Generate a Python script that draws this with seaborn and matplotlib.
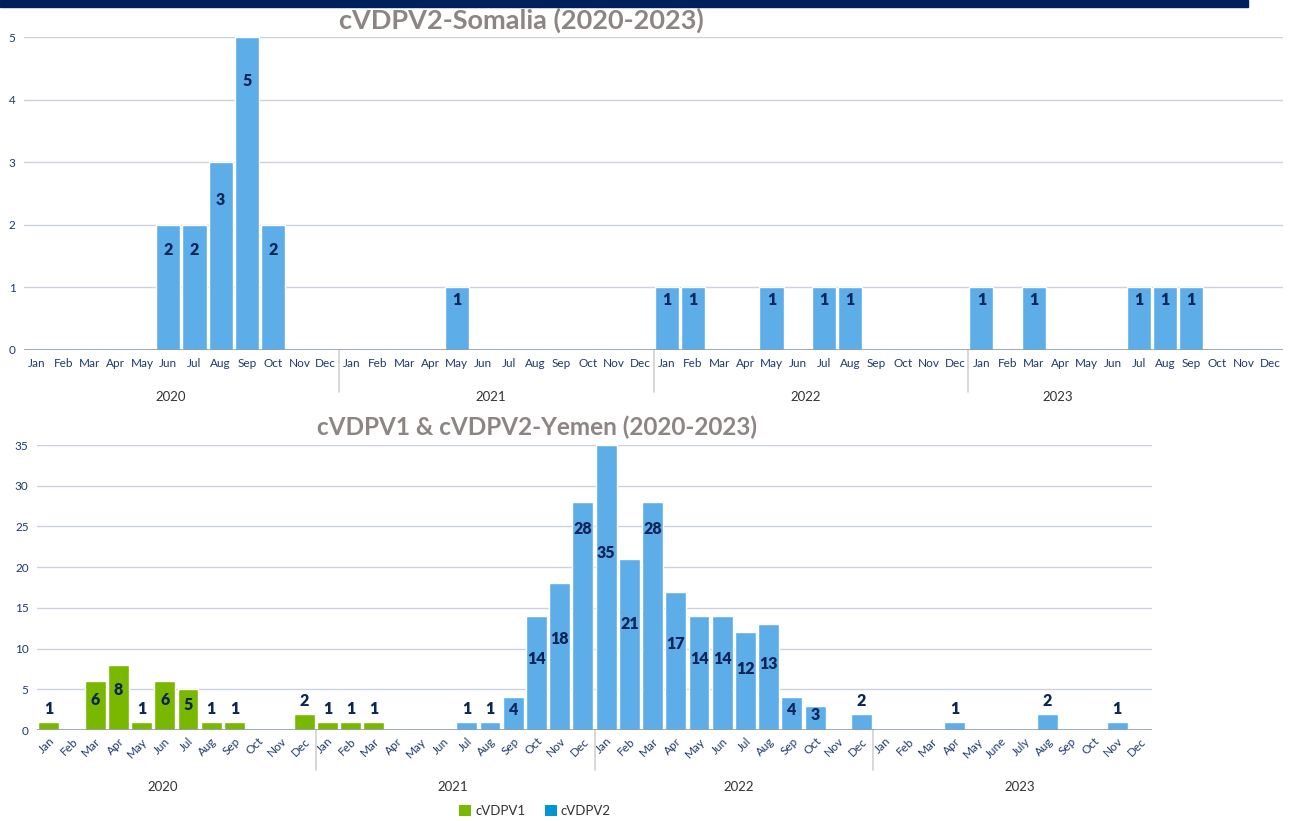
import numpy as np
import pandas as pd
import matplotlib
matplotlib.use("Agg")
import matplotlib.pyplot as plt
from matplotlib.patches import Rectangle, Patch
from matplotlib.transforms import blended_transform_factory
import seaborn as sns

# ---------------- data ----------------
years = ["2020", "2021", "2022", "2023"]
months_top = ["Jan", "Feb", "Mar", "Apr", "May", "Jun", "Jul", "Aug", "Sep", "Oct", "Nov", "Dec"]
months_2023_bottom = ["Jan", "Feb", "Mar", "Apr", "May", "June", "July", "Aug", "Sep", "Oct", "Nov", "Dec"]

# Somalia cVDPV2 per month, 2020..2023
somalia_2020 = [0, 0, 0, 0, 0, 2, 2, 3, 5, 2, 0, 0]
somalia_2021 = [0, 0, 0, 0, 1, 0, 0, 0, 0, 0, 0, 0]
somalia_2022 = [1, 1, 0, 0, 1, 0, 1, 1, 0, 0, 0, 0]
somalia_2023 = [1, 0, 1, 0, 0, 0, 1, 1, 1, 0, 0, 0]

# Yemen cVDPV1 per month, 2020..2023
yemen_v1_2020 = [1, 0, 6, 8, 1, 6, 5, 1, 1, 0, 0, 2]
yemen_v1_2021 = [1, 1, 1, 0, 0, 0, 0, 0, 0, 0, 0, 0]
yemen_v1_2022 = [0, 0, 0, 0, 0, 0, 0, 0, 0, 0, 0, 0]
yemen_v1_2023 = [0, 0, 0, 0, 0, 0, 0, 0, 0, 0, 0, 0]

# Yemen cVDPV2 per month, 2020..2023
yemen_v2_2020 = [0, 0, 0, 0, 0, 0, 0, 0, 0, 0, 0, 0]
yemen_v2_2021 = [0, 0, 0, 0, 0, 0, 1, 1, 4, 14, 18, 28]
yemen_v2_2022 = [35, 21, 28, 17, 14, 14, 12, 13, 4, 3, 0, 2]
yemen_v2_2023 = [0, 0, 0, 1, 0, 0, 0, 2, 0, 0, 1, 0]

series_names = ["cVDPV1", "cVDPV2"]

# ---------------- styles ----------------
BAR_BLUE = "#5DADE9"
GREEN = "#7AB800"
LEGEND_BLUE = "#0096D6"
NAVY = "#0B2559"
TICK_NAVY = "#1F3A6E"
TITLE_GRAY = "#8C8583"
GRID = "#CBD1DE"
BASE = "#8E9AB3"
SEP = "#D5D0D0"
FONT = ["Lato", "DejaVu Sans"]

sns.set_theme(style="white")
plt.rcParams["font.family"] = FONT

W, H = 1291, 821
fig = plt.figure(figsize=(W / 100, H / 100), dpi=100)

def fx(px):
    return px / W

def fy(py):
    return 1 - py / H

# navy band at top
fig.patches.append(Rectangle((0, fy(7)), fx(1248), 7 / H, transform=fig.transFigure,
                             color="#00205B", zorder=5))

# ================= TOP: Somalia =================
somalia = somalia_2020 + somalia_2021 + somalia_2022 + somalia_2023
n = len(somalia)
df_top = pd.DataFrame({"idx": np.arange(n), "cases": somalia})

ax1 = fig.add_axes([fx(24), fy(350), fx(1283) - fx(24), (350 - 37) / H])
sns.barplot(data=df_top, x="idx", y="cases", color=BAR_BLUE, saturation=1,
            width=0.92, ax=ax1, zorder=3)
ax1.set_ylim(0, 5)
ax1.set_xlim(-0.5, n - 0.5)
ax1.set_yticks(range(0, 6))
ax1.set_yticklabels([str(v) for v in range(0, 6)], fontsize=8.5, color=TICK_NAVY)
ax1.tick_params(axis="y", length=0, pad=6)
for v in range(1, 6):
    ax1.axhline(v, color=GRID, lw=1, zorder=1)
ax1.axhline(0, color=BASE, lw=1.2, zorder=4)
for s in ax1.spines.values():
    s.set_visible(False)
ax1.set_xticks(np.arange(n))
ax1.set_xticklabels(months_top * 4, fontsize=8.5, color=TICK_NAVY)
ax1.tick_params(axis="x", length=0, pad=6)
ax1.set_xlabel("")
ax1.set_ylabel("")
for i, v in enumerate(somalia):
    if v > 0:
        ax1.text(i, v * 0.8 if v < 5 else v * 0.86, str(v), ha="center", va="center",
                 fontsize=11.5, fontweight="heavy", color=NAVY, zorder=6)
tr1 = blended_transform_factory(ax1.transData, ax1.transAxes)
for b in (11.5, 23.5, 35.5):
    ax1.plot([b, b], [0, -0.135], color=SEP, lw=1.2, transform=tr1, clip_on=False)
for pos, yr in zip((5.1, 17.3, 29.3, 38.9), years):
    ax1.text(pos, -0.15, yr, transform=tr1, ha="center", va="center",
             fontsize=9.5, color="#333333")
fig.text(fx(521), fy(20), "cVDPV2-Somalia (2020-2023)", ha="center", va="center",
         fontsize=19.5, fontweight="bold", color=TITLE_GRAY)

# ================= BOTTOM: Yemen =================
v1 = yemen_v1_2020 + yemen_v1_2021 + yemen_v1_2022 + yemen_v1_2023
v2 = yemen_v2_2020 + yemen_v2_2021 + yemen_v2_2022 + yemen_v2_2023
m = len(v1)
df_bot = pd.DataFrame({
    "idx": np.concatenate([np.arange(m), np.arange(m)]),
    "cases": v1 + v2,
    "series": [series_names[0]] * m + [series_names[1]] * m,
})

ax2 = fig.add_axes([fx(37), fy(730), fx(1152) - fx(37), (730 - 445) / H])
sns.barplot(data=df_bot, x="idx", y="cases", hue="series",
            palette={series_names[0]: GREEN, series_names[1]: BAR_BLUE},
            dodge=False, saturation=1, width=0.9, ax=ax2, zorder=3, legend=False)
ax2.set_ylim(0, 35)
ax2.set_xlim(-0.5, m - 0.5)
ax2.set_yticks(range(0, 36, 5))
ax2.set_yticklabels([str(v) for v in range(0, 36, 5)], fontsize=8.5, color=TICK_NAVY)
ax2.tick_params(axis="y", length=0, pad=6)
for v in range(5, 36, 5):
    ax2.axhline(v, color=GRID, lw=1, zorder=1)
ax2.axhline(0, color=BASE, lw=1.2, zorder=4)
for s in ax2.spines.values():
    s.set_visible(False)
ax2.set_xticks(np.arange(m))
ax2.set_xticklabels(months_top * 3 + months_2023_bottom, fontsize=8.5, color=TICK_NAVY,
                    rotation=45, ha="right", rotation_mode="anchor")
ax2.tick_params(axis="x", length=0, pad=4)
ax2.set_xlabel("")
ax2.set_ylabel("")

def label_y(v):
    if 25 <= v < 30:
        return v * 0.88
    if v >= 3:
        return v * 0.62
    return v + 1.6

for i in range(m):
    for v in (v1[i], v2[i]):
        if v > 0:
            ax2.text(i, label_y(v), str(v), ha="center", va="center",
                     fontsize=11.5, fontweight="heavy", color=NAVY, zorder=6)

tr2 = blended_transform_factory(ax2.transData, ax2.transAxes)
for b in (11.5, 23.5, 35.5):
    ax2.plot([b, b], [0, -0.14], color=SEP, lw=1.2, transform=tr2, clip_on=False)
for pos, yr in zip((4.9, 17.4, 29.7, 41.8), years):
    ax2.text(pos, -0.2, yr, transform=tr2, ha="center", va="center",
             fontsize=9.5, color="#333333")
fig.text(fx(537), fy(427), "cVDPV1 & cVDPV2-Yemen (2020-2023)", ha="center", va="center",
         fontsize=17.5, fontweight="bold", color=TITLE_GRAY)

handles = [Patch(facecolor=GREEN, edgecolor="none", label=series_names[0]),
           Patch(facecolor=LEGEND_BLUE, edgecolor="none", label=series_names[1])]
fig.legend(handles=handles, loc="center", bbox_to_anchor=(fx(535), fy(811)), ncol=2,
           frameon=False, fontsize=9.5, handlelength=0.9, handleheight=0.9,
           handletextpad=0.3, columnspacing=1.5, labelcolor="#333333")

fig.savefig("out.png", dpi=100, facecolor="white")
